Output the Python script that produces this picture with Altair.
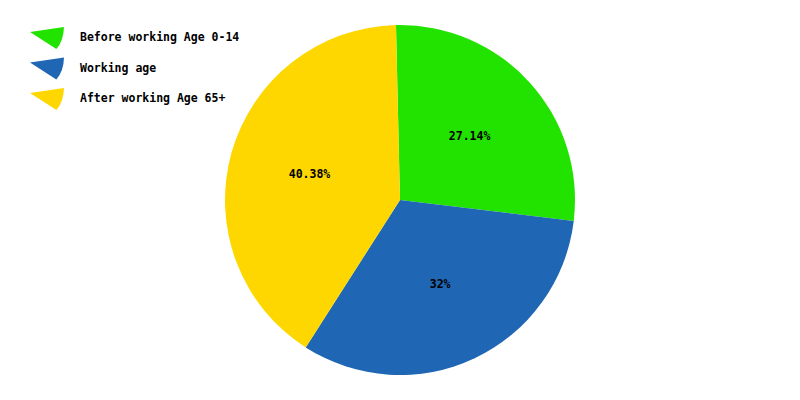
import math
import altair as alt
import pandas as pd

categories = ["Before working Age 0-14", "Working age", "After working Age 65+"]
values = [27.14, 32.0, 40.38]
labels = ["27.14%", "32%", "40.38%"]
colors = ["#22e300", "#1f67b4", "#ffd700"]

df = pd.DataFrame({"category": categories, "value": values, "label": labels,
                   "order": [0, 1, 2]})

start = -0.023
theta_scale = alt.Scale(range=[start, start + 2 * math.pi])
color_scale = alt.Scale(domain=categories, range=colors)

wedge = "M-1,-0.35L1,-0.65Q0.98,0.15 0.55,0.65Z"

base = alt.Chart(df).encode(
    theta=alt.Theta("value:Q", stack=True, scale=theta_scale),
    order=alt.Order("order:Q"),
)

arcs = base.mark_arc(outerRadius=175, x=392, y=192).encode(
    color=alt.Color(
        "category:N",
        scale=color_scale,
        sort=categories,
        legend=alt.Legend(
            title=None,
            orient="none",
            legendX=22,
            legendY=13,
            padding=0,
            symbolType=wedge,
            symbolSize=1156,
            symbolStrokeWidth=0,
            symbolOpacity=1,
            labelFont="DejaVu Sans Mono",
            labelFontWeight="bold",
            labelFontSize=11.5,
            labelColor="#000000",
            labelOffset=16,
            rowPadding=1.5,
            labelLimit=400,
        ),
    )
)

text = base.mark_text(
    radius=94, x=392, y=192,
    font="DejaVu Sans Mono", fontWeight="bold", fontSize=11.5, color="#000000"
).encode(text="label:N")

chart = (arcs + text).properties(
    width=784, height=384, autosize="none", padding=0
).configure_view(stroke=None).configure(background="#ffffff")

chart.save("out.html", embed_options={"renderer": "svg", "actions": False})
